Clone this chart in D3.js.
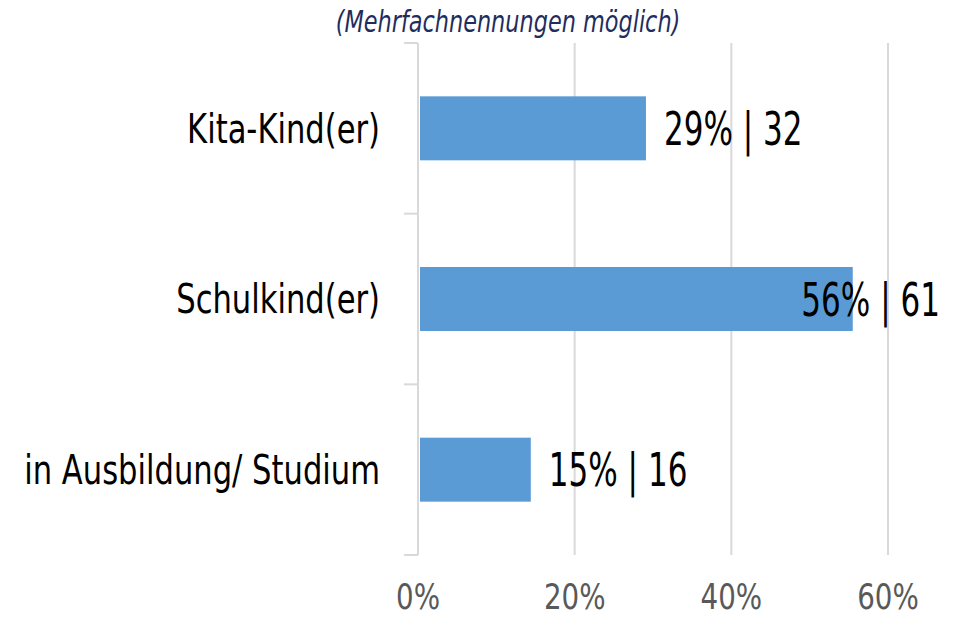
<!DOCTYPE html>
<html>
<head>
<meta charset="utf-8">
<script src="https://cdn.jsdelivr.net/npm/d3@7"></script>
<style>
  body { margin: 0; background: #fff; }
  svg text { font-family: "DejaVu Sans Condensed", "DejaVu Sans", sans-serif; }
</style>
</head>
<body>
<div id="container"></div>
<script>
var categories = ['Kita-Kind(er)', 'Schulkind(er)', 'in Ausbildung/ Studium'],
    shares = [0.291, 0.555, 0.144],
    shareLabels = ['29%', '56%', '15%'],
    counts = [32, 61, 16],
    tickValues = [0, 0.2, 0.4, 0.6],
    subtitle = '(Mehrfachnennungen möglich)';

var width = 966,
    height = 618,
    margin = {top: 43, left: 418, bottom: 63},
    plotBottom = height - margin.bottom,
    labelLimit = 940,
    svg, x, y;

// the chart font is a narrow grotesque, squeeze the text horizontally
function squeeze(sel, sx, px, py) {
  sel.attr('transform', function (d, i) {
    return 'translate(' + px(d, i) + ',' + py(d, i) + ') scale(' + sx + ',1)';
  });
}

svg = d3.select('#container').append('svg')
  .attr('width', width)
  .attr('height', height);

x = d3.scaleLinear()
  .domain([0, 0.6])
  .range([margin.left, margin.left + 470]);

y = d3.scaleBand()
  .domain(categories)
  .range([margin.top, plotBottom])
  .paddingInner(0.625)
  .paddingOuter(0.3125);

// vertical gridlines
svg.selectAll('line.grid')
  .data(tickValues.slice(1))
  .enter()
  .append('line')
  .attr('class', 'grid')
  .attr('x1', function (d) { return x(d); })
  .attr('x2', function (d) { return x(d); })
  .attr('y1', margin.top)
  .attr('y2', plotBottom)
  .attr('stroke', '#d9d9d9')
  .attr('stroke-width', 2);

// category axis with boundary ticks
var step = y.step();
svg.append('line')
  .attr('x1', x(0)).attr('x2', x(0))
  .attr('y1', margin.top).attr('y2', plotBottom)
  .attr('stroke', '#d9d9d9')
  .attr('stroke-width', 2);

svg.selectAll('line.cat-tick')
  .data(d3.range(categories.length + 1))
  .enter()
  .append('line')
  .attr('class', 'cat-tick')
  .attr('x1', x(0) - 14)
  .attr('x2', x(0))
  .attr('y1', function (d) { return margin.top + d * step; })
  .attr('y2', function (d) { return margin.top + d * step; })
  .attr('stroke', '#d9d9d9')
  .attr('stroke-width', 2);

// bars
svg.selectAll('rect.bar')
  .data(shares)
  .enter()
  .append('rect')
  .attr('class', 'bar')
  .attr('x', x(0) + 2)
  .attr('y', function (d, i) { return y(categories[i]); })
  .attr('width', function (d) { return x(d) - x(0) - 2; })
  .attr('height', y.bandwidth())
  .attr('fill', '#5b9bd5');

// value labels
var valueScale = 0.75;
svg.selectAll('text.value')
  .data(shares)
  .enter()
  .append('text')
  .attr('class', 'value')
  .attr('dy', '0.36em')
  .attr('font-size', 46)
  .attr('fill', '#000')
  .text(function (d, i) { return shareLabels[i] + ' | ' + counts[i]; })
  .each(function (d, i) {
    var w = this.getComputedTextLength() * valueScale,
        px = Math.min(x(d) + 18, labelLimit - w);
    d3.select(this).attr('transform',
      'translate(' + px + ',' + (y(categories[i]) + y.bandwidth() / 2) + ') scale(' + valueScale + ',1)');
  });

// category labels
svg.selectAll('text.cat')
  .data(categories)
  .enter()
  .append('text')
  .attr('class', 'cat')
  .attr('dy', '0.36em')
  .attr('text-anchor', 'end')
  .attr('font-size', 40)
  .attr('fill', '#000')
  .text(function (d) { return d; })
  .call(squeeze, 0.85,
    function () { return 380; },
    function (d) { return y(d) + y.bandwidth() / 2; });

// x axis labels
svg.selectAll('text.tick')
  .data(tickValues)
  .enter()
  .append('text')
  .attr('class', 'tick')
  .attr('text-anchor', 'middle')
  .attr('font-size', 35)
  .attr('fill', '#595959')
  .text(d3.format('.0%'))
  .call(squeeze, 0.88,
    function (d) { return x(d); },
    function () { return 609; });

// subtitle
svg.append('text')
  .attr('text-anchor', 'middle')
  .attr('font-size', 30)
  .attr('font-style', 'italic')
  .attr('fill', '#1f2d5c')
  .text(subtitle)
  .attr('transform', 'translate(508,32) scale(0.83,1)');
</script>
</body>
</html>
